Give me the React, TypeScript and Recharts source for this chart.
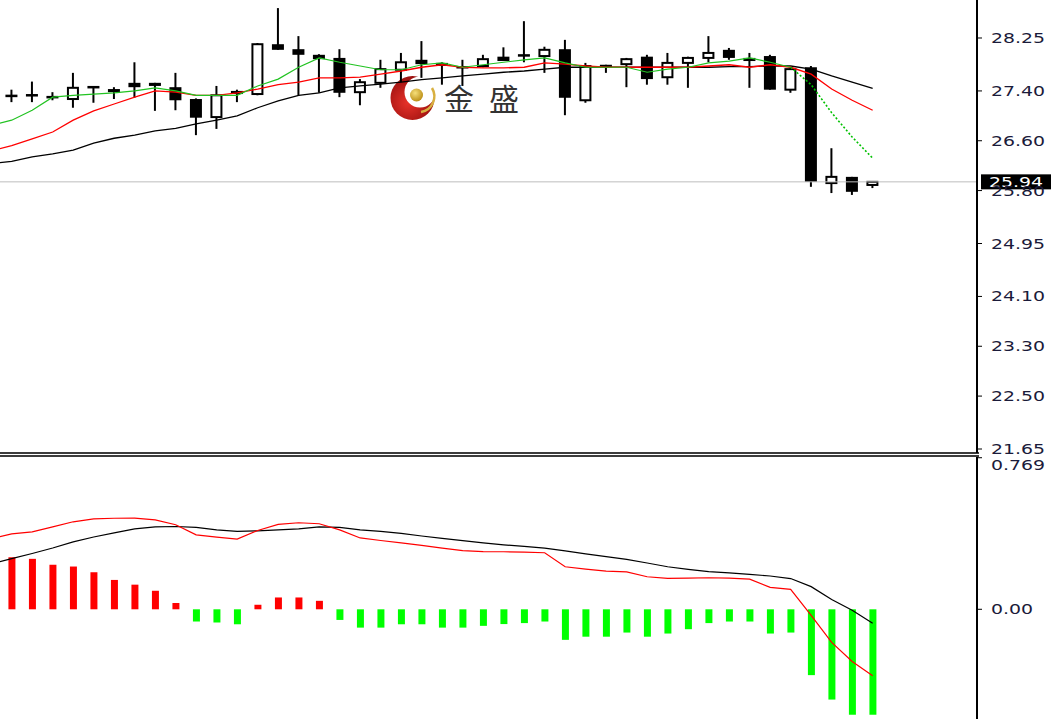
import React from 'react';
import { ComposedChart, Bar, Line, XAxis, YAxis, ReferenceLine, Cell } from 'recharts';

// bar numbers; -1 is the bar just past the left edge (only its averages are seen)
const bars = [-1, 0, 1, 2, 3, 4, 5, 6, 7, 8, 9, 10, 11, 12, 13, 14, 15, 16, 17, 18, 19, 20, 21, 22, 23, 24, 25, 26, 27, 28, 29, 30, 31, 32, 33, 34, 35, 36, 37, 38, 39, 40, 41, 42];

// candles for bars 0..42
const opens = [27.32, 27.33, 27.30, 27.27, 27.46, 27.43, 27.53, 27.53, 27.46, 27.27, 26.98, 27.40, 27.35, 28.15, 28.07, 27.98, 27.93, 27.38, 27.53, 27.74, 27.90, 27.85, 27.78, 27.80, 27.95, 27.97, 27.96, 28.07, 27.25, 27.80, 27.83, 27.95, 27.62, 27.85, 27.93, 28.06, 27.93, 27.96, 27.42, 27.78, 25.92, 26.02, 25.89];
const highs = [27.42, 27.55, 27.38, 27.69, 27.47, 27.46, 27.86, 27.53, 27.69, 27.28, 27.48, 27.42, 28.17, 28.73, 28.28, 27.99, 28.07, 27.59, 27.90, 28.01, 28.20, 27.86, 27.90, 27.98, 28.10, 28.52, 28.11, 28.22, 27.85, 27.82, 27.93, 27.98, 28.01, 27.95, 28.28, 28.09, 28.01, 27.98, 27.77, 27.80, 26.48, 26.02, 25.94];
const lows = [27.22, 27.22, 27.25, 27.13, 27.21, 27.27, 27.29, 27.08, 27.09, 26.69, 26.79, 27.22, 27.33, 28.06, 27.33, 27.37, 27.30, 27.17, 27.45, 27.54, 27.61, 27.50, 27.48, 27.78, 27.88, 27.86, 27.69, 27.01, 27.21, 27.69, 27.46, 27.50, 27.50, 27.45, 27.86, 27.90, 27.45, 27.42, 27.37, 25.86, 25.76, 25.73, 25.84];
const closes = [27.31, 27.30, 27.27, 27.45, 27.43, 27.38, 27.46, 27.48, 27.25, 26.97, 27.33, 27.35, 28.15, 28.06, 27.98, 27.91, 27.37, 27.54, 27.75, 27.86, 27.83, 27.80, 27.77, 27.91, 27.88, 27.95, 28.06, 27.29, 27.80, 27.77, 27.91, 27.59, 27.85, 27.93, 28.01, 27.93, 27.88, 27.42, 27.75, 25.94, 26.02, 25.78, 25.94];

// moving averages for bars -1..42
const maFast = [26.85, 26.93, 27.09, 27.30, 27.33, 27.35, 27.37, 27.40, 27.45, 27.40, 27.33, 27.33, 27.33, 27.48, 27.59, 27.78, 27.93, 27.86, 27.80, 27.74, 27.74, 27.82, 27.85, 27.78, 27.82, 27.86, 27.90, 27.93, 27.85, 27.78, 27.78, 27.78, 27.70, 27.75, 27.78, 27.85, 27.88, 27.93, 27.86, 27.78, 27.50, 27.05, 26.66, 26.32];
const maMid = [26.44, 26.52, 26.63, 26.74, 26.93, 27.08, 27.19, 27.30, 27.40, 27.38, 27.33, 27.33, 27.37, 27.43, 27.50, 27.54, 27.61, 27.61, 27.62, 27.67, 27.72, 27.78, 27.82, 27.78, 27.77, 27.77, 27.78, 27.85, 27.83, 27.80, 27.78, 27.78, 27.78, 27.78, 27.78, 27.80, 27.82, 27.78, 27.82, 27.78, 27.67, 27.43, 27.25, 27.09];
const maSlow = [26.23, 26.27, 26.34, 26.39, 26.45, 26.56, 26.64, 26.69, 26.76, 26.80, 26.87, 26.93, 27.00, 27.13, 27.24, 27.33, 27.37, 27.45, 27.48, 27.51, 27.54, 27.58, 27.61, 27.64, 27.67, 27.70, 27.72, 27.75, 27.78, 27.78, 27.78, 27.78, 27.78, 27.78, 27.78, 27.78, 27.79, 27.79, 27.80, 27.80, 27.75, 27.64, 27.54, 27.44];

// MACD: histogram for bars 0..42, lines for bars -1..42
const hist = [0.264, 0.256, 0.226, 0.217, 0.188, 0.149, 0.125, 0.094, 0.032, -0.062, -0.067, -0.076, 0.023, 0.060, 0.060, 0.043, -0.054, -0.093, -0.093, -0.076, -0.076, -0.093, -0.093, -0.084, -0.075, -0.070, -0.062, -0.155, -0.139, -0.139, -0.118, -0.139, -0.123, -0.101, -0.070, -0.062, -0.062, -0.123, -0.118, -0.334, -0.458, -0.535, -0.535];
const macdLine = [0.357, 0.383, 0.393, 0.418, 0.444, 0.459, 0.462, 0.463, 0.454, 0.429, 0.378, 0.366, 0.356, 0.400, 0.431, 0.439, 0.434, 0.403, 0.362, 0.349, 0.337, 0.324, 0.310, 0.298, 0.293, 0.292, 0.290, 0.287, 0.216, 0.204, 0.194, 0.190, 0.165, 0.157, 0.158, 0.160, 0.158, 0.153, 0.111, 0.101, -0.031, -0.168, -0.265, -0.337];
const signalLine = [0.230, 0.257, 0.283, 0.311, 0.342, 0.367, 0.388, 0.408, 0.418, 0.420, 0.416, 0.403, 0.395, 0.398, 0.403, 0.408, 0.418, 0.416, 0.403, 0.395, 0.385, 0.372, 0.360, 0.348, 0.337, 0.327, 0.319, 0.310, 0.296, 0.281, 0.267, 0.253, 0.235, 0.216, 0.203, 0.191, 0.185, 0.177, 0.169, 0.156, 0.115, 0.050, -0.005, -0.071];

const priceTicks = [21.65, 22.5, 23.3, 24.1, 24.95, 25.8, 26.6, 27.4, 28.25];
const macdTicks = [0, 0.769];
const macdTickLabels = ['0.00', '0.769'];
const lastPrice = 25.94;
const dottedFrom = 38;

const rows = bars.map((b, k) => {
  const j = k - 1;
  const has = j >= 0;
  return {
    bar: b,
    open: has ? opens[j] : null,
    high: has ? highs[j] : null,
    low: has ? lows[j] : null,
    close: has ? closes[j] : null,
    range: has ? [lows[j], highs[j]] : null,
    fast: b <= dottedFrom ? maFast[k] : null,
    fastTail: b >= dottedFrom ? maFast[k] : null,
    mid: maMid[k],
    slow: maSlow[k],
    hist: has ? hist[j] : null,
    macd: macdLine[k],
    signal: signalLine[k],
  };
});

const X_DOMAIN = [-0.57, 47.09];
const FONT = "'DejaVu Sans', Verdana, sans-serif";

const Candle = (props: any) => {
  const { x, y, width, height, payload } = props;
  if (!payload || payload.open == null) return null;
  const { open: o, close: c, high: h, low: l } = payload;
  const cx = x + width / 2;
  const span = h - l;
  const toY = (v: number) => (span > 0 ? y + ((h - v) / span) * height : y);
  const top = toY(Math.max(o, c));
  const bot = toY(Math.min(o, c));
  const bull = c > o;
  const bodyH = Math.max(bot - top, 2.5);
  return (
    <g>
      <line x1={cx} x2={cx} y1={y} y2={y + height} stroke="#000" strokeWidth={2} />
      {bull ? (
        <rect x={cx - 5} y={top} width={10} height={Math.max(bodyH, 3)} fill="#fff" stroke="#000" strokeWidth={2} />
      ) : (
        <rect x={cx - 6} y={bodyH === 2.5 ? top - 1.25 : top} width={12} height={bodyH} fill="#000" />
      )}
    </g>
  );
};

const AxisText = ({ x, y, text, fill = '#1b1b3a' }: any) => (
  <text transform={`translate(${x},${y}) scale(1.35,1)`} fontFamily={FONT} fontSize={14} fill={fill}>
    {text}
  </text>
);

const PriceTick = (props: any) => {
  const { x, y, payload } = props;
  return <AxisText x={x + 7} y={y + 5} text={Number(payload.value).toFixed(2)} />;
};

const MacdTick = (props: any) => {
  const { x, y, payload } = props;
  const label = macdTickLabels[macdTicks.indexOf(payload.value)] ?? String(payload.value);
  const dy = payload.value > 0 ? 12 : 5;
  return <AxisText x={x + 7} y={y + dy} text={label} />;
};

const PriceLabel = (props: any) => {
  const { viewBox } = props;
  const right = viewBox.x + viewBox.width;
  const y = viewBox.y;
  return (
    <g>
      <rect x={right + 4} y={y - 7.5} width={70} height={15} fill="#000" />
      <AxisText x={right + 12} y={y + 5.5} text={lastPrice.toFixed(2)} fill="#fff" />
    </g>
  );
};

function Watermark() {
  return (
    <svg width={1051} height={200} style={{ position: 'absolute', left: 0, top: 0, zIndex: 0 }}>
      <defs>
        <radialGradient id="redG" cx="40%" cy="60%" r="70%">
          <stop offset="0%" stopColor="#e8322a" />
          <stop offset="100%" stopColor="#8e0a0a" />
        </radialGradient>
        <radialGradient id="goldG" cx="40%" cy="35%" r="70%">
          <stop offset="0%" stopColor="#f6df7a" />
          <stop offset="100%" stopColor="#b88a10" />
        </radialGradient>
        <mask id="cres">
          <rect x={380} y={70} width={70} height={60} fill="#fff" />
          <circle cx={420} cy={92} r={15.5} fill="#000" />
        </mask>
      </defs>
      <circle cx={412.5} cy={98} r={22} fill="url(#redG)" mask="url(#cres)" />
      <path d="M 432 88 A 16 16 0 0 1 421 112" fill="none" stroke="#d8b040" strokeWidth={2.5} />
      <circle cx={416.5} cy={95} r={6.5} fill="url(#goldG)" />
      <text x={444} y={110} fontFamily="'Noto Sans CJK SC', sans-serif" fontSize={30} fill="#333">金</text>
      <text x={489} y={110} fontFamily="'Noto Sans CJK SC', sans-serif" fontSize={30} fill="#333">盛</text>
    </svg>
  );
}

export default function App() {
  return (
    <div style={{ position: 'absolute', left: 0, top: 0, width: 1051, height: 719, background: '#fff', overflow: 'hidden' }}>
      <Watermark />
      <div style={{ position: 'absolute', left: 0, top: 452, width: 979, height: 2, background: '#3c3c3c' }} />
      <div style={{ position: 'absolute', left: 0, top: 455, width: 979, height: 2, background: '#3c3c3c' }} />
      <div style={{ position: 'absolute', left: 0, top: 457, zIndex: 1 }}>
        <ComposedChart width={1051} height={262} data={rows} margin={{ top: 0, right: 0, bottom: 0, left: 0 }}>
          <XAxis type="number" dataKey="bar" domain={X_DOMAIN} hide allowDataOverflow />
          <YAxis
            orientation="right"
            width={74}
            domain={[-0.5566, 0.7727]}
            allowDataOverflow
            ticks={macdTicks}
            interval={0}
            tick={<MacdTick />}
            tickSize={5}
            tickLine={{ stroke: '#000', strokeWidth: 1 }}
            axisLine={{ stroke: '#000', strokeWidth: 2 }}
          />
          <Bar dataKey="hist" barSize={7} isAnimationActive={false}>
            {rows.map((r, k) => (
              <Cell key={k} fill={r.hist != null && r.hist >= 0 ? '#ff0000' : '#00ff00'} />
            ))}
          </Bar>
          <Line dataKey="signal" stroke="#000" strokeWidth={1.2} dot={false} activeDot={false} isAnimationActive={false} />
          <Line dataKey="macd" stroke="#ff0000" strokeWidth={1.2} dot={false} activeDot={false} isAnimationActive={false} />
        </ComposedChart>
      </div>
      <div style={{ position: 'absolute', left: 0, top: 0, zIndex: 2 }}>
        <ComposedChart width={1051} height={460} data={rows} margin={{ top: 0, right: 0, bottom: 7, left: 0 }}>
          <XAxis type="number" dataKey="bar" domain={X_DOMAIN} hide allowDataOverflow />
          <YAxis
            orientation="right"
            width={74}
            domain={[21.586, 28.86]}
            allowDataOverflow
            ticks={priceTicks}
            interval={0}
            tick={<PriceTick />}
            tickSize={5}
            tickLine={{ stroke: '#000', strokeWidth: 1 }}
            axisLine={{ stroke: '#000', strokeWidth: 2 }}
          />
          <ReferenceLine y={lastPrice} stroke="#bdbdbd" strokeWidth={1} label={<PriceLabel />} />
          <Line dataKey="slow" stroke="#000" strokeWidth={1.3} dot={false} activeDot={false} isAnimationActive={false} />
          <Line dataKey="mid" stroke="#ff0000" strokeWidth={1.3} dot={false} activeDot={false} isAnimationActive={false} />
          <Line dataKey="fast" stroke="#22c322" strokeWidth={1.2} dot={false} activeDot={false} isAnimationActive={false} />
          <Line dataKey="fastTail" stroke="#00c000" strokeWidth={1.6} strokeDasharray="2 2" dot={false} activeDot={false} isAnimationActive={false} />
          <Bar dataKey="range" barSize={12} shape={<Candle />} isAnimationActive={false} />
        </ComposedChart>
      </div>
    </div>
  );
}
